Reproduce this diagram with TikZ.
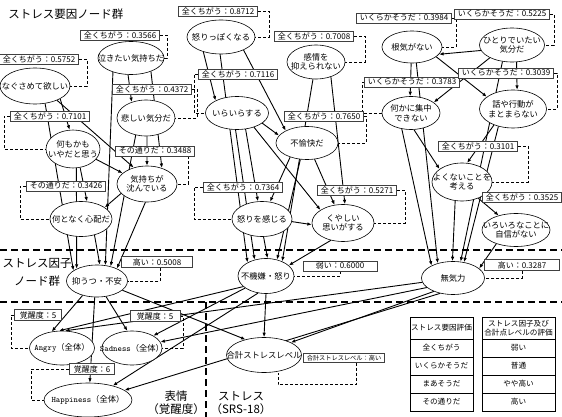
\documentclass[tikz,border=0pt]{standalone}
\usepackage{fontspec}
\setmainfont{Noto Sans CJK JP}
\usetikzlibrary{shapes.geometric,arrows.meta,backgrounds}

\tikzset{
  item/.style={ellipse, draw, fill=white, line width=0.6pt, inner xsep=-16pt, inner ysep=-1pt,
    minimum width=60pt, minimum height=34pt, align=center, font=\fontsize{8.3}{9.6}\selectfont},
  valbox/.style={rectangle, draw=black!75, fill=white, line width=0.7pt, inner xsep=3.5pt, inner ysep=1.5pt,
    font=\fontsize{8}{8.5}\selectfont},
  dep/.style={-{Latex[length=4.5pt,width=3.5pt]}, line width=0.9pt},
  link/.style={densely dashed, line width=0.8pt},
  divider/.style={dash pattern=on 7pt off 4pt, line width=2pt},
  cell/.style={rectangle, draw, line width=0.8pt, inner sep=0pt, align=center, font=\fontsize{7.6}{9}\selectfont},
  group/.style={align=center, font=\fontsize{11.5}{13}\selectfont},
}

\begin{document}
\begin{tikzpicture}[x=1pt,y=-1pt]
\useasboundingbox (0,0) rectangle (562,417);

% group titles
\node[group] (titlecause) at (66,14) {ストレス要因ノード群};
\node[group, font=\fontsize{11.5}{18}\selectfont] (titlefactor) at (37,272) {ストレス因子\\ノード群};
\node[group] (titleface) at (176,403) {表情\\（覚醒度）};
\node[group] (titlesrs) at (241,403) {ストレス\\（SRS-18）};

% stress cause nodes
\node[item, minimum width=70pt, minimum height=36pt] (nagusame) at (35,86) {なぐさめて欲しい};
\node[item, minimum width=66pt, minimum height=33pt] (nakitai) at (131,58) {泣きたい気持ちだ};
\node[item, minimum width=58pt, minimum height=36pt] (kanashii) at (146,118) {悲しい気分だ};
\node[item, minimum width=54pt, minimum height=38pt] (nanimo) at (73,149) {何もかも\\いやだと思う};
\node[item, minimum width=60pt, minimum height=36pt] (shizun) at (147,184) {気持ちが\\沈んでいる};
\node[item, minimum width=62pt, minimum height=35pt] (shinpai) at (81,219) {何となく心配だ};
\node[item, minimum width=68pt, minimum height=34pt] (okoppoi) at (221,37) {怒りっぽくなる};
\node[item, minimum width=63pt, minimum height=33pt] (iraira) at (237,113) {いらいらする};
\node[item, minimum width=58pt, minimum height=34pt] (kanjou) at (316,62) {感情を\\抑えられない};
\node[item, minimum width=62pt, minimum height=33pt] (fuyukai) at (307,143) {不愉快だ};
\node[item, minimum width=60pt, minimum height=35pt] (ikari) at (262,219) {怒りを感じる};
\node[item, minimum width=62pt, minimum height=37pt] (kuyashii) at (343,223) {くやしい\\思いがする};
\node[item, minimum width=60pt, minimum height=32pt] (konki) at (412,47) {根気がない};
\node[item, minimum width=65pt, minimum height=34pt] (hitori) at (512,45) {ひとりでいたい\\気分だ};
\node[item, minimum width=58pt, minimum height=33pt] (shuchu) at (411,113) {何かに集中\\できない};
\node[item, minimum width=67pt, minimum height=38pt] (hanashi) at (513,109) {話や行動が\\まとまらない};
\node[item, minimum width=60pt, minimum height=38pt] (yokunai) at (462,182) {よくないことを\\考える};
\node[item, minimum width=68pt, minimum height=33pt] (jishin) at (516,230) {いろいろなことに\\自信がない};

% stress factor nodes
\node[item, minimum width=61pt, minimum height=32pt] (yokuutsu) at (97,281) {抑うつ・不安};
\node[item, minimum width=56pt, minimum height=35pt] (fukigen) at (266,276) {不機嫌・怒り};
\node[item, minimum width=63pt, minimum height=33pt] (muki) at (453,278) {無気力};

% expression and total nodes
\node[item, minimum width=65pt, minimum height=34pt] (angry) at (62,348) {{\ttfamily Angry}（全体）};
\node[item, minimum width=60pt, minimum height=34pt] (sadness) at (132,348) {{\ttfamily Sadness}（全体）};
\node[item, minimum width=88pt, minimum height=34pt] (happy) at (88,400) {{\ttfamily Happiness}（全体）};
\node[item, minimum width=75pt, minimum height=35pt] (total) at (264,355) {合計ストレスレベル};

% evidence boxes
\node[valbox] (b1) at (39,59) {全くちがう：0.5752};
\node[valbox] (b2) at (120,35) {全くちがう：0.3566};
\node[valbox] (b3) at (152,89) {全くちがう：0.4372};
\node[valbox] (b4) at (50,116) {全くちがう：0.7101};
\node[valbox] (b5) at (155,151) {その通りだ：0.3488};
\node[valbox] (b6) at (66,186) {その通りだ：0.3426};
\node[valbox] (b7) at (218,11) {全くちがう：0.8712};
\node[valbox] (b8) at (238,74) {全くちがう：0.7116};
\node[valbox] (b9) at (314,36) {全くちがう：0.7008};
\node[valbox] (b10) at (324,116) {全くちがう：0.7650};
\node[valbox] (b11) at (412,82) {いくらかそうだ：0.3783};
\node[valbox] (b12) at (243,187) {全くちがう：0.7364};
\node[valbox] (b13) at (357,190) {全くちがう：0.5271};
\node[valbox] (b14) at (404,18) {いくらかそうだ：0.3984};
\node[valbox] (b15) at (502,14) {いくらかそうだ：0.5225};
\node[valbox] (b16) at (506,73) {いくらかそうだ：0.3039};
\node[valbox] (b17) at (478,146) {全くちがう：0.3101};
\node[valbox] (b18) at (522,197) {全くちがう：0.3525};
\node[valbox, minimum width=71pt] (b19) at (157,262) {高い：0.5008};
\node[valbox, minimum width=74pt] (b20) at (340,266) {弱い：0.6000};
\node[valbox, minimum width=75pt] (b21) at (522,265) {高い：0.3287};
\node[valbox, minimum width=47pt] (b22) at (38,315) {覚醒度：5};
\node[valbox, minimum width=50pt] (b23) at (155,316) {覚醒度：5};
\node[valbox, minimum width=45pt] (b24) at (92,369) {覚醒度：6};
\node[valbox, font=\fontsize{6.2}{7}\selectfont] (b25) at (344,358) {合計ストレスレベル：高い};

% legend tables
\node[cell, minimum width=63pt, minimum height=22pt] (evalhead) at (441.5,328) {ストレス要因評価};
\node[cell, minimum width=73pt, minimum height=22pt] (levelhead) at (518.5,328) {ストレス因子及び\\合計点レベルの評価};
\foreach \txt [count=\i] in {全くちがう,いくらかそうだ,まあそうだ,その通りだ}
  \node[cell, minimum width=63pt, minimum height=18pt] (eval\i) at (441.5,330+18*\i) {\txt};
\foreach \txt [count=\i] in {弱い,普通,やや高い,高い}
  \node[cell, minimum width=73pt, minimum height=18pt] (level\i) at (518.5,330+18*\i) {\txt};

\begin{scope}[on background layer]
  % section borders
  \draw[divider] (0,250) -- (562,250);
  \draw[divider] (0,302) -- (562,302);
  \draw[divider] (206,302) -- (206,417);

  % evidence links
  \draw[link] (b1.east) -- ++(8,0) |- (nagusame.east);
  \draw[link] (b2.east) -- ++(7,0) |- (nakitai.east);
  \draw[link] (b3.east) -- ++(5,0) |- (kanashii.east);
  \draw[link] (b4.west) -- ++(-6,0) |- (nanimo.west);
  \draw[link] ([xshift=-7pt]b5.south east) |- (shizun.east);
  \draw[link] (b6.west) -- ++(-6,0) |- (shinpai.west);
  \draw[link] (b7.east) -- ++(11,0) |- (okoppoi.east);
  \draw[link] (b8.west) -- ++(-4,0) |- (iraira.west);
  \draw[link] (b9.east) -- ++(11,0) |- (kanjou.east);
  \draw[link] (b10.east) -- ++(2,0) |- (fuyukai.east);
  \draw[link] (b11.west) -- ++(-2,0) |- (shuchu.west);
  \draw[link] (b12.west) -- ++(-9,0) |- (ikari.west);
  \draw[link] (b13.east) -- ++(8,0) |- (kuyashii.east);
  \draw[link] (b14.east) -- ++(4,0) |- (konki.east);
  \draw[link] (b15.east) -- ++(4,0) |- (hitori.east);
  \draw[link] (b16.east) -- ++(3,0) |- (hanashi.east);
  \draw[link] (b17.east) -- ++(10,0) |- (yokunai.east);
  \draw[link] ([xshift=3pt]b19.south) |- (yokuutsu.east);
  \draw[link] (b20.south) |- (fukigen.east);
  \draw[link] (b21.south) |- (muki.east);
  \draw[link] (b22.west) -- ++(-3,0) |- (angry.west);
  \draw[link] (b23.east) -- ++(3,0) |- (sadness.east);
  \draw[link] (b24.west) -- ++(-38,0) |- (happy.west);
  \draw[link] ([xshift=12pt]b25.south) -- ++(0,22) -| ([xshift=14pt]total.south);

  % depression and anxiety group
  \draw[dep] (nagusame.-27) -- (nanimo.100);
  \draw[dep] (nagusame.-33) -- (shizun.129);
  \draw[dep] (nagusame.-60) -- (yokuutsu.156);
  \draw[dep] (nakitai.-100) -- (kanashii.132);
  \draw[dep] (nakitai.-34) -- (shizun.47);
  \draw[dep] (nakitai.-142) -- (yokuutsu.62);
  \draw[dep] (kanashii.-87) -- (shizun.90);
  \draw[dep] (kanashii.-121) -- (yokuutsu.47);
  \draw[dep] (nanimo.-69) -- (shinpai.71);
  \draw[dep] (nanimo.-24) -- (shizun.156);
  \draw[dep] (nanimo.-80) -- (yokuutsu.149);
  \draw[dep] (shizun.-160) -- (shinpai.26);
  \draw[dep] (shizun.-95) -- (yokuutsu.32);
  \draw[dep] (shinpai.-50) -- (yokuutsu.80);

  % irritability and anger group
  \draw[dep] (okoppoi.-140) -- (iraira.150);
  \draw[dep] (okoppoi.-30) -- (fuyukai.150);
  \draw[dep] (okoppoi.-93) -- (fukigen.144);
  \draw[dep] (iraira.-22) -- (fuyukai.165);
  \draw[dep] (iraira.-40) -- (kuyashii.150);
  \draw[dep] (iraira.-62) -- (ikari.103);
  \draw[dep] (iraira.-95) -- (fukigen.125);
  \draw[dep] (kanjou.-45) -- (kuyashii.84);
  \draw[dep] (kanjou.-100) -- (fukigen.42);
  \draw[dep] (fuyukai.-140) -- (ikari.65);
  \draw[dep] (fuyukai.-65) -- (kuyashii.115);
  \draw[dep] (fuyukai.-112) -- (fukigen.56);
  \draw[dep] (ikari.-5) -- (kuyashii.183);
  \draw[dep] (ikari.-85) -- (fukigen.85);
  \draw[dep] (kuyashii.-125) -- (fukigen.25);

  % lethargy group
  \draw[dep] (hitori.-170) -- (konki.-15);
  \draw[dep] (konki.-93) -- (shuchu.93);
  \draw[dep] (hitori.-150) -- (shuchu.25);
  \draw[dep] (konki.-22) -- (hanashi.155);
  \draw[dep] (hitori.-75) -- (hanashi.78);
  \draw[dep] (shuchu.-80) -- (yokunai.150);
  \draw[dep] (hanashi.-140) -- (yokunai.75);
  \draw[dep] (yokunai.-45) -- (jishin.140);
  \draw[dep] (shuchu.-120) -- (muki.150);
  \draw[dep] (konki.-75) -- (muki.136);
  \draw[dep] (yokunai.-110) -- (muki.92);
  \draw[dep] (hitori.-120) -- (muki.65);
  \draw[dep] (hanashi.-130) -- (muki.55);
  \draw[dep] (jishin.-145) -- (muki.20);

  % factors to expressions and total level
  \draw[dep] (yokuutsu.-135) -- (angry.122);
  \draw[dep] (yokuutsu.-60) -- (sadness.105);
  \draw[dep] (yokuutsu.-98) -- (happy.84);
  \draw[dep] (yokuutsu.-20) -- (total.140);
  \draw[dep] (fukigen.-155) -- (angry.100);
  \draw[dep] (fukigen.-150) -- (sadness.30);
  \draw[dep] (fukigen.-115) -- (happy.30);
  \draw[dep] (fukigen.south) -- (total.north);
  \draw[dep] (muki.-172) -- (angry.80);
  \draw[dep] (muki.-160) -- (sadness.12);
  \draw[dep] (muki.-145) -- (total.25);
  \draw[dep] (muki.-130) -- (happy.15);
\end{scope}
\end{tikzpicture}
\end{document}
